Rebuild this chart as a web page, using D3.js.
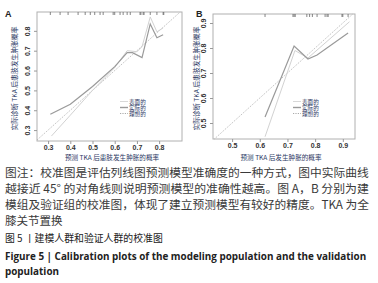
<!DOCTYPE html>
<html>
<head>
<meta charset="utf-8">
<script src="https://cdn.jsdelivr.net/npm/d3@7"></script>
<style>
  body { margin: 0; background: #fff; }
  svg { display: block; font-family: "Noto Sans CJK SC", "Noto Sans", sans-serif; }
</style>
</head>
<body>
<div id="chart"></div>
<script>
// Panel A (modeling group) curves: [predicted, observed]
const apparentA = [[0.315, 0.27], [0.40, 0.375], [0.50, 0.50], [0.60, 0.615], [0.656, 0.70], [0.70, 0.695], [0.723, 0.72], [0.76, 0.87], [0.79, 0.795], [0.818, 0.815]];
const correctedA = [[0.31, 0.38], [0.40, 0.43], [0.50, 0.52], [0.60, 0.62], [0.656, 0.69], [0.68, 0.69], [0.723, 0.665], [0.76, 0.835], [0.79, 0.765], [0.818, 0.78]];
const rugA = [0.31, 0.354, 0.39, 0.435, 0.467, 0.49, 0.51, 0.534, 0.548, 0.593, 0.60, 0.624, 0.638, 0.656, 0.67, 0.714, 0.718, 0.728, 0.732, 0.76, 0.79, 0.818, 0.821];
const xTicksA = [0.3, 0.4, 0.5, 0.6, 0.7, 0.8];
const yTicksA = [0.3, 0.4, 0.5, 0.6, 0.7, 0.8];

// Panel B (validation group)
const apparentB = [[0.619, 0.445], [0.727, 0.79], [0.774, 0.76], [0.924, 0.905]];
const correctedB = [[0.619, 0.524], [0.724, 0.808], [0.774, 0.756], [0.807, 0.772], [0.919, 0.86]];
const rugB = [0.619, 0.72, 0.724, 0.728, 0.77, 0.78, 0.79, 0.807, 0.836, 0.843, 0.847, 0.897, 0.90, 0.919];
const xTicksB = [0.5, 0.6, 0.7, 0.8, 0.9];
const yTicksB = [0.5, 0.6, 0.7, 0.8, 0.9];

const legendLabels = ["表面的", "实际的", "理想的"];

const captionLines = [
  "图注：校准图是评估列线图预测模型准确度的一种方式，图中实际曲线",
  "越接近 45° 的对角线则说明预测模型的准确性越高。图 A，B 分别为建",
  "模组及验证组的校准图，体现了建立预测模型有较好的精度。TKA 为全",
  "膝关节置换"
];
const figTitleCn = "图 5 丨建模人群和验证人群的校准图";
const figTitleEn = ["Figure 5 | Calibration plots of the modeling population and the validation", "population"];

const W = 378, H = 283;
const svg = d3.select("#chart").append("svg")
  .attr("width", W).attr("height", H);
svg.append("rect").attr("width", W).attr("height", H).attr("fill", "#fff");

const labelColor = "#2b3763";

// shrink/grow a text's font so its natural width equals target
function fitWidth(sel, base, target) {
  const len = sel.node().getComputedTextLength();
  const fs = base * target / len;
  sel.style("font-size", fs.toFixed(2) + "px");
  return fs;
}

function panel(cfg) {
  const x = d3.scaleLinear().domain(cfg.xDomain).range([cfg.left, cfg.right]);
  const y = d3.scaleLinear().domain(cfg.yDomain).range([cfg.bottom, cfg.top]);
  const g = svg.append("g");

  // box
  g.append("rect")
    .attr("x", cfg.left).attr("y", cfg.top)
    .attr("width", cfg.right - cfg.left).attr("height", cfg.bottom - cfg.top)
    .attr("fill", "none").attr("stroke", "#b0b0b0").attr("stroke-width", 1);

  // axes
  const xAxis = g.append("g")
    .attr("transform", `translate(0,${cfg.bottom})`)
    .call(d3.axisBottom(x).tickValues(cfg.xTicks).tickSize(3).tickPadding(1.5).tickFormat(d3.format(".1f")));
  const yAxis = g.append("g")
    .attr("transform", `translate(${cfg.left},0)`)
    .call(d3.axisLeft(y).tickValues(cfg.yTicks).tickSize(3).tickFormat(d3.format(".1f")));
  [xAxis, yAxis].forEach(a => {
    a.select(".domain").remove();
    a.selectAll(".tick line").attr("stroke", "#999");
    a.selectAll(".tick text").attr("fill", "#333").style("font-size", "7px")
      .style("font-family", "'Liberation Sans', Arial, sans-serif").style("font-weight", "bold");
  });
  yAxis.selectAll(".tick text")
    .attr("x", null).attr("dy", null)
    .attr("transform", "translate(-7.5,0) rotate(-90)")
    .attr("text-anchor", "middle");

  // ideal diagonal
  const lo = Math.max(cfg.xDomain[0], cfg.yDomain[0]);
  const hi = Math.min(cfg.xDomain[1], cfg.yDomain[1]);
  g.append("line")
    .attr("x1", x(lo)).attr("y1", y(lo)).attr("x2", x(hi)).attr("y2", y(hi))
    .attr("stroke", "#aaa").attr("stroke-width", 0.8).attr("stroke-dasharray", "1.2,1.2");

  const line = d3.line().x(d => x(d[0])).y(d => y(d[1]));
  g.append("path").datum(cfg.apparent).attr("d", line)
    .attr("fill", "none").attr("stroke", "#d2d2d2").attr("stroke-width", 1);
  g.append("path").datum(cfg.corrected).attr("d", line)
    .attr("fill", "none").attr("stroke", "#9a9a9a").attr("stroke-width", 1.2);

  // rug at top
  g.selectAll(".rug").data(cfg.rug).enter().append("line")
    .attr("x1", d => x(d)).attr("x2", d => x(d))
    .attr("y1", cfg.top).attr("y2", cfg.top + 3)
    .attr("stroke", "#666").attr("stroke-width", 0.8);

  // legend
  const styles = [
    { stroke: "#d8d8d8", w: 1, dash: null },
    { stroke: "#9a9a9a", w: 1.4, dash: null },
    { stroke: "#aaa", w: 1, dash: "1.2,1.2" }
  ];
  legendLabels.forEach((t, i) => {
    const ly = cfg.legendY + i * 6;
    g.append("line").attr("x1", cfg.legendX).attr("x2", cfg.legendX + 8)
      .attr("y1", ly).attr("y2", ly)
      .attr("stroke", styles[i].stroke).attr("stroke-width", styles[i].w)
      .attr("stroke-dasharray", styles[i].dash);
    g.append("text").attr("x", cfg.legendX + 9).attr("y", ly + 2)
      .style("font-size", "5.6px").attr("fill", labelColor).text(t);
  });

  // axis titles
  g.append("text")
    .attr("transform", `translate(${cfg.yLabelX},${(cfg.top + cfg.bottom) / 2 + 2}) rotate(-90)`)
    .attr("text-anchor", "middle").style("font-size", "6.8px").attr("fill", labelColor)
    .text("实际诊断 TKA 后患肢发生肿胀概率");
  g.append("text")
    .attr("x", cfg.xLabelX).attr("y", 159.5)
    .attr("text-anchor", "middle").style("font-size", "6.6px").attr("fill", labelColor)
    .text(cfg.xLabel);

  // panel letter
  g.append("text").attr("x", cfg.letterX).attr("y", 17)
    .style("font-size", "9px").style("font-weight", "bold")
    .style("font-family", "'Liberation Sans', Arial, sans-serif")
    .attr("fill", "#222").text(cfg.letter);
}

panel({
  letter: "A", letterX: 5,
  left: 37, right: 182, top: 12, bottom: 141,
  xDomain: [0.25, 0.903], yDomain: [0.245, 0.895],
  xTicks: xTicksA, yTicks: yTicksA,
  apparent: apparentA, corrected: correctedA, rug: rugA,
  legendX: 120, legendY: 101.5, yLabelX: 17, xLabelX: 112,
  xLabel: "预测 TKA 后患肢发生肿胀的概率"
});

panel({
  letter: "B", letterX: 196,
  left: 213, right: 355, top: 14, bottom: 139,
  xDomain: [0.431, 0.944], yDomain: [0.436, 0.936],
  xTicks: xTicksB, yTicks: yTicksB,
  apparent: apparentB, corrected: correctedB, rug: rugB,
  legendX: 293, legendY: 101.5, yLabelX: 199, xLabelX: 281,
  xLabel: "预测 TKA 后发生肿胀的概率"
});

// caption
const cap = svg.append("g").attr("fill", "#3a3a3a");
captionLines.forEach((t, i) => {
  const tx = cap.append("text").attr("x", 5).attr("y", 177 + i * 16)
    .style("font-size", "11.5px").text(t);
  if (i < 3) fitWidth(tx, 11.5, 364);
});
const cn = svg.append("text").attr("x", 5).attr("y", 242)
  .style("font-size", "10px").attr("fill", "#222").text(figTitleCn);
fitWidth(cn, 10, 158);
let enSize = 10.6;
figTitleEn.forEach((t, i) => {
  const tx = svg.append("text").attr("x", 5).attr("y", 260 + i * 15)
    .style("font-size", enSize + "px").style("font-weight", "bold")
    .style("font-family", "'Open Sans', 'Noto Sans', sans-serif")
    .attr("fill", "#222").text(t);
  if (i === 0) enSize = fitWidth(tx, 10.6, 362);
});
</script>
</body>
</html>
